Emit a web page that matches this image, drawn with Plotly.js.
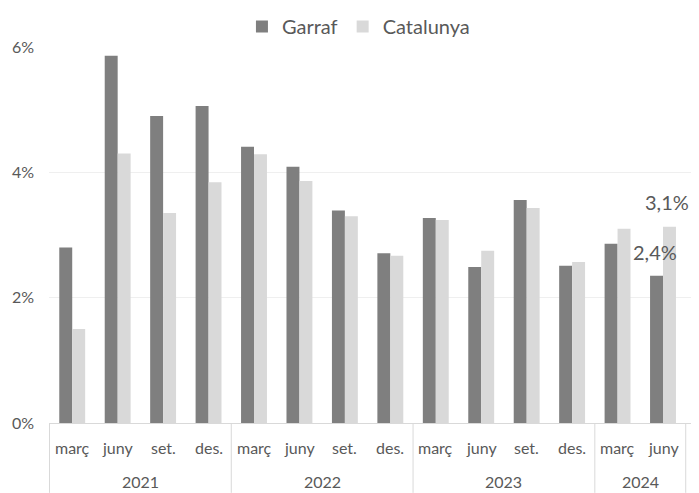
<!DOCTYPE html>
<html>
<head>
<meta charset="utf-8">
<script src="https://cdn.plot.ly/plotly-3.0.1.min.js"></script>
<style>html,body{margin:0;padding:0;background:#fff;}#chart{width:699px;height:493px;}</style>
</head>
<body>
<div id="chart"></div>
<script>
const years = ['2021','2021','2021','2021','2022','2022','2022','2022','2023','2023','2023','2023','2024','2024'];
const months = ['març','juny','set.','des.','març','juny','set.','des.','març','juny','set.','des.','març','juny'];
const garraf = [2.80, 5.86, 4.90, 5.06, 4.41, 4.09, 3.39, 2.71, 3.27, 2.49, 3.56, 2.51, 2.86, 2.35];
const catalunya = [1.50, 4.30, 3.35, 3.84, 4.29, 3.86, 3.30, 2.67, 3.24, 2.75, 3.43, 2.57, 3.10, 3.13];
const seriesNames = ['Garraf', 'Catalunya'];
const colors = ['#7f7f7f', '#d9d9d9'];

const FONT = 'Lato, "Open Sans", sans-serif';
const TXT = '#595959';
const LINE = '#d9d9d9';

const traces = [garraf, catalunya].map((vals, i) => ({
  type: 'bar',
  name: seriesNames[i],
  x: [years, months],
  y: vals,
  marker: {color: colors[i]},
  hoverinfo: 'none'
}));

const annotations = [];
const shapes = [];

// month labels (first level)
months.forEach((m, i) => {
  annotations.push({x: i, y: 0, xref: 'x', yref: 'paper', text: m, showarrow: false,
    yanchor: 'middle', yshift: -24, font: {family: FONT, size: 16, color: TXT}});
});

// year groups (second level) and dividers
const groups = [];
years.forEach((y, i) => {
  const g = groups[groups.length - 1];
  if (g && g.year === y) g.end = i; else groups.push({year: y, start: i, end: i});
});
const plotH = 493 - 46 - 70;
const divBottom = -70 / plotH;
groups.forEach((g, k) => {
  annotations.push({x: (g.start + g.end) / 2, y: 0, xref: 'x', yref: 'paper', text: g.year, showarrow: false,
    yanchor: 'middle', yshift: -58, font: {family: FONT, size: 16, color: TXT}});
  if (k === 0) shapes.push({type: 'line', xref: 'x', yref: 'paper', x0: g.start - 0.5, x1: g.start - 0.5, y0: 0, y1: divBottom,
    line: {color: LINE, width: 1}});
  shapes.push({type: 'line', xref: 'x', yref: 'paper', x0: g.end + 0.5, x1: g.end + 0.5, y0: 0, y1: divBottom,
    line: {color: LINE, width: 1}});
});

// data labels on the last period
const last = months.length - 1;
const fmt = v => v.toFixed(1).replace('.', ',') + '%';
annotations.push(
  {x: last, y: garraf[last], xref: 'x', yref: 'y', text: fmt(garraf[last]), showarrow: false,
   yanchor: 'middle', xshift: -8, yshift: 24, font: {family: FONT, size: 20, color: TXT}},
  {x: last, y: catalunya[last], xref: 'x', yref: 'y', text: fmt(catalunya[last]), showarrow: false,
   yanchor: 'middle', xshift: 4, yshift: 24.5, font: {family: FONT, size: 20, color: TXT}}
);

const layout = {
  width: 699, height: 493,
  margin: {l: 49, r: 8, t: 46, b: 70},
  paper_bgcolor: '#fff', plot_bgcolor: '#fff',
  font: {family: FONT, color: TXT},
  separators: ',.',
  barmode: 'group',
  bargap: 0.43,
  bargroupgap: 0,
  showlegend: true,
  legend: {orientation: 'h', x: 0.482, xanchor: 'center', y: 1.0, yanchor: 'bottom',
           font: {family: FONT, size: 20, color: TXT}, itemwidth: 30, tracegroupgap: 0},
  xaxis: {
    type: 'multicategory',
    showline: true, linecolor: LINE, linewidth: 1,
    showdividers: false, showticklabels: false,
    ticks: '', showgrid: false, zeroline: false
  },
  yaxis: {
    range: [0, 6], dtick: 2, ticksuffix: '%',
    showgrid: true, gridcolor: '#efefef', gridwidth: 1,
    zeroline: false, showline: false, ticks: '',
    ticklabelstandoff: 14,
    tickfont: {family: FONT, size: 16, color: TXT}
  },
  annotations: annotations,
  shapes: shapes
};

Plotly.newPlot('chart', traces, layout, {staticPlot: true, displayModeBar: false});
</script>
</body>
</html>
